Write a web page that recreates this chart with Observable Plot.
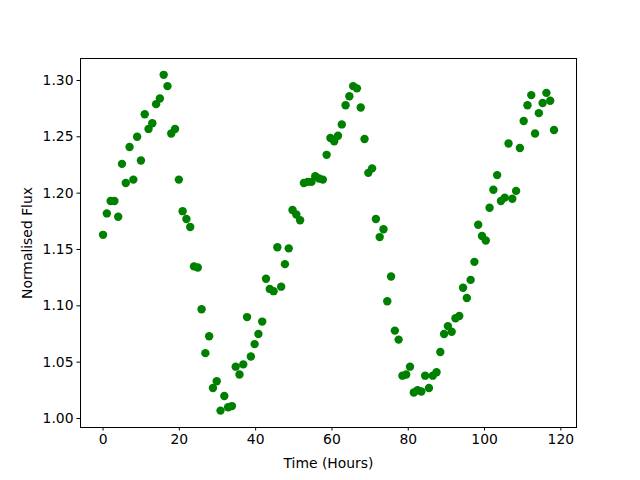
<!DOCTYPE html>
<html>
<head>
<meta charset="utf-8">
<script src="https://cdn.jsdelivr.net/npm/d3@7"></script>
<script src="https://cdn.jsdelivr.net/npm/@observablehq/plot@0.6"></script>
<style>
  html, body { margin: 0; padding: 0; background: #fff; }
</style>
</head>
<body>
<div id="chart"></div>
<script>
// 120 samples, cadence ~0.9933 h
const cadence = 0.9933;
const hours = d3.range(0, 120).map(i => +(i * cadence).toFixed(3));
const flux = [
  1.163, 1.182, 1.193, 1.193, 1.179, 1.226, 1.209, 1.241, 1.212, 1.250,
  1.229, 1.270, 1.257, 1.262, 1.279, 1.284, 1.305, 1.295, 1.253, 1.257,
  1.212, 1.184, 1.177, 1.170, 1.135, 1.134, 1.097, 1.058, 1.073, 1.027,
  1.033, 1.007, 1.020, 1.010, 1.011, 1.046, 1.039, 1.048, 1.090, 1.055,
  1.066, 1.075, 1.086, 1.124, 1.115, 1.113, 1.152, 1.117, 1.137, 1.151,
  1.185, 1.181, 1.176, 1.209, 1.210, 1.210, 1.215, 1.213, 1.212, 1.234,
  1.249, 1.246, 1.251, 1.261, 1.278, 1.286, 1.295, 1.293, 1.276, 1.248,
  1.218, 1.222, 1.177, 1.161, 1.168, 1.104, 1.126, 1.078, 1.070, 1.038,
  1.039, 1.046, 1.023, 1.025, 1.024, 1.038, 1.027, 1.038, 1.041, 1.059,
  1.075, 1.082, 1.077, 1.089, 1.091, 1.116, 1.107, 1.123, 1.139, 1.172,
  1.162, 1.158, 1.187, 1.203, 1.216, 1.193, 1.196, 1.244, 1.195, 1.202,
  1.240, 1.264, 1.278, 1.287, 1.253, 1.271, 1.280, 1.289, 1.282, 1.256
];
const xTicks = [0, 20, 40, 60, 80, 100, 120];
const yTicks = [1.00, 1.05, 1.10, 1.15, 1.20, 1.25, 1.30];
const xLabel = "Time (Hours)";
const yLabel = "Normalised Flux";

const data = hours.map((t, i) => ({t, f: flux[i]}));

const chart = Plot.plot({
  width: 640,
  height: 480,
  marginLeft: 80,
  marginRight: 64,
  marginTop: 58,
  marginBottom: 53,
  style: {fontFamily: "DejaVu Sans", fontSize: "13.9px", background: "#fff", color: "#000"},
  x: {domain: [-5.91, 124.1]},
  y: {domain: [0.992, 1.3195]},
  marks: [
    Plot.frame({stroke: "#000", strokeWidth: 1}),
    Plot.axisX({ticks: xTicks, tickSize: 3.5, tickPadding: 3.5, tickFormat: d => String(d),
      label: xLabel, labelAnchor: "center", labelArrow: "none", labelOffset: 40, fontSize: 13.9}),
    Plot.axisY({ticks: yTicks, tickSize: 3.5, tickPadding: 3.5, tickFormat: d => d.toFixed(2),
      label: yLabel, labelAnchor: "center", labelArrow: "none", labelOffset: 58, fontSize: 13.9}),
    Plot.dot(data, {x: "t", y: "f", r: 4.2, fill: "#008000", stroke: "none"})
  ]
});
document.getElementById("chart").appendChild(chart);
</script>
</body>
</html>
